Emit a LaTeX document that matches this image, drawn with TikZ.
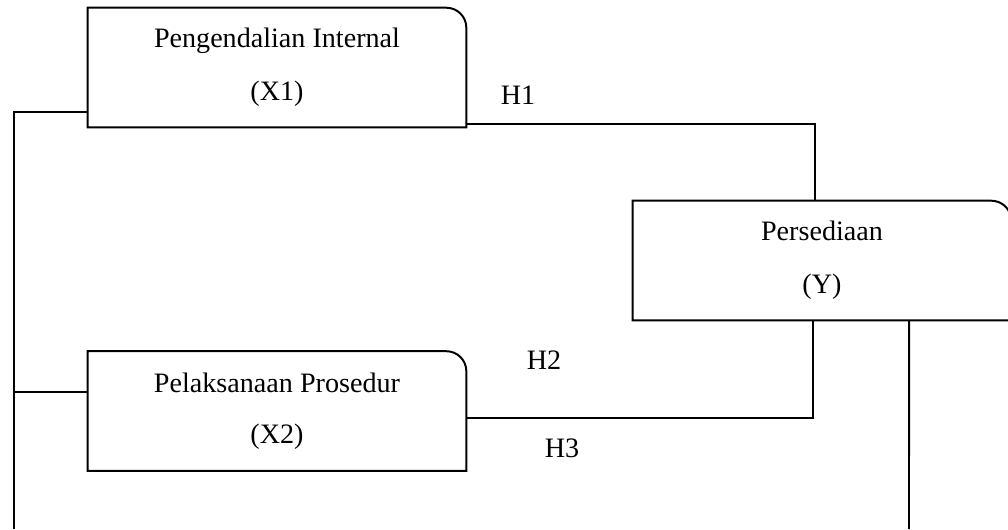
\documentclass[tikz,border=0pt]{standalone}
\usepackage{fontspec}
\setmainfont{Liberation Serif}
\usetikzlibrary{positioning}

\tikzset{
  kotak/.style={minimum width=9.45cm, minimum height=2.975cm, inner sep=0pt,
    align=center, font=\fontsize{20}{24}\selectfont},
  labelh/.style={font=\fontsize{20}{24}\selectfont, inner sep=0pt},
  garis/.style={line width=1.4pt}
}
% outline with only the top right corner rounded
\newcommand{\bingkai}[1]{%
  \draw[garis] (#1.south west) -- (#1.north west) -- ([xshift=-0.5cm]#1.north east)
    arc[start angle=90, end angle=0, radius=0.5cm] -- (#1.south east) -- cycle;}

\begin{document}
\begin{tikzpicture}[x=0.025cm, y=-0.025cm]
\useasboundingbox (0,0) rectangle (1008,529);

\node[kotak] (x1) at (277,67.5) {Pengendalian Internal\\[14pt](X1)};
\node[kotak] (y)  at (822,260.5) {Persediaan\\[14pt](Y)};
\node[kotak] (x2) at (277,411) {Pelaksanaan Prosedur\\[12pt](X2)};
\bingkai{x1}
\bingkai{y}
\bingkai{x2}

\node[labelh] (h1) at (518,95) {H1};
\node[labelh] (h2) at (544,360) {H2};
\node[labelh] (h3) at (562,448) {H3};

\coordinate (bawahkiri) at (14,529);
\coordinate (bawahkanan) at (909,529);
\coordinate (x2kiri) at ([yshift=0.475cm]x2.west);

\draw[garis] ([yshift=0.075cm]x1.south east) -| ([xshift=-0.175cm]y.north);
\draw[garis] ([yshift=0.375cm]x1.south west) -| (bawahkiri);
\draw[garis] (x2kiri) -- (bawahkiri |- x2kiri);
\draw[garis] ([yshift=-0.175cm]x2.east) -| ([xshift=-0.225cm]y.south);
\draw[garis] ([xshift=2.175cm]y.south) -- (bawahkanan);
\end{tikzpicture}
\end{document}
